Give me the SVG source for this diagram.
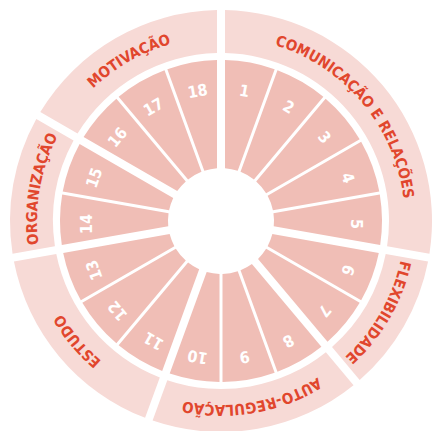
<svg xmlns="http://www.w3.org/2000/svg" width="433" height="431" viewBox="0 0 433 431">
<style>
.ring{fill:#f7dad6}
.seg{fill:#f0beb6}
.lbl{font-family:"DejaVu Sans Condensed","DejaVu Sans",sans-serif;font-stretch:condensed;font-weight:bold;font-size:15px;fill:#e1462d;text-anchor:middle}
.num{font-family:"DejaVu Sans Condensed","DejaVu Sans",sans-serif;font-stretch:condensed;font-weight:bold;font-size:16px;fill:#ffffff;text-anchor:middle;dominant-baseline:central}
</style>
<defs>
<path id="sA" d="M4,-160.95 A161,161 0 0 1 53.653,-151.797 L16.71,-50.297 A53,53 0 0 0 4,-52.849 Z"/>
<path id="sB" d="M1.5,-160.993 A161,161 0 0 1 53.653,-151.797 L16.71,-50.297 A53,53 0 0 0 1.5,-52.979 Z"/>
<path id="sC" d="M1.5,-160.993 A161,161 0 0 1 51.29,-152.612 L14.317,-51.03 A53,53 0 0 0 1.5,-52.979 Z"/>
<path id="r100" d="M4,-210.962 A211,211 0 0 1 208.452,32.694 L166.095,25.225 A168,168 0 0 0 4,-167.952 Z"/>
<path id="r40" d="M4,-210.962 A211,211 0 0 1 132.54,-164.178 L104.893,-131.23 A168,168 0 0 0 4,-167.952 Z"/>
<path id="r60" d="M4,-210.962 A211,211 0 0 1 180.699,-108.945 L143.451,-87.44 A168,168 0 0 0 4,-167.952 Z"/>
<path id="lp" d="M221,37 A184,184 0 1 1 221,405 A184,184 0 1 1 221,37"/>
</defs>
<rect width="433" height="431" fill="#ffffff"/>

<g id="cat-comunicacao">
<use href="#r100" class="ring" transform="translate(221,221) rotate(0)"/>
<text class="lbl"><textPath href="#lp" startOffset="160.57">COMUNICAÇÃO E RELAÇÕES</textPath></text>
</g>
<g id="cat-flexibilidade">
<use href="#r40" class="ring" transform="translate(221,221) rotate(100)"/>
<text class="lbl"><textPath href="#lp" startOffset="385.37">FLEXIBILIDADE</textPath></text>
</g>
<g id="cat-autoregulacao">
<use href="#r60" class="ring" transform="translate(221,221) rotate(140)"/>
<text class="lbl"><textPath href="#lp" startOffset="545.94">AUTO-REGULAÇÃO</textPath></text>
</g>
<g id="cat-estudo">
<use href="#r60" class="ring" transform="translate(221,221) rotate(200)"/>
<text class="lbl"><textPath href="#lp" startOffset="738.64">ESTUDO</textPath></text>
</g>
<g id="cat-organizacao">
<use href="#r40" class="ring" transform="translate(221,221) rotate(260)"/>
<text class="lbl"><textPath href="#lp" startOffset="899.2">ORGANIZAÇÃO</textPath></text>
</g>
<g id="cat-motivacao">
<use href="#r60" class="ring" transform="translate(221,221) rotate(300)"/>
<text class="lbl"><textPath href="#lp" startOffset="1059.8">MOTIVAÇÃO</textPath></text>
</g>

<g id="seg1"><use href="#sA" class="seg" transform="translate(221,221) rotate(0)"/><text class="num" transform="translate(244.44,91.05) rotate(10)">1</text></g>
<g id="seg2"><use href="#sB" class="seg" transform="translate(221,221) rotate(20)"/><text class="num" transform="translate(288.5,107.09) rotate(30)">2</text></g>
<g id="seg3"><use href="#sB" class="seg" transform="translate(221,221) rotate(40)"/><text class="num" transform="translate(324.42,137.22) rotate(50)">3</text></g>
<g id="seg4"><use href="#sB" class="seg" transform="translate(221,221) rotate(60)"/><text class="num" transform="translate(347.86,177.83) rotate(70)">4</text></g>
<g id="seg5"><use href="#sC" class="seg" transform="translate(221,221) rotate(80)"/><text class="num" transform="translate(356,224) rotate(90)">5</text></g>
<g id="seg6"><use href="#sA" class="seg" transform="translate(221,221) rotate(100)"/><text class="num" transform="translate(347.86,270.17) rotate(110)">6</text></g>
<g id="seg7"><use href="#sC" class="seg" transform="translate(221,221) rotate(120)"/><text class="num" transform="translate(324.42,310.78) rotate(130)">7</text></g>
<g id="seg8"><use href="#sA" class="seg" transform="translate(221,221) rotate(140)"/><text class="num" transform="translate(288.5,340.91) rotate(150)">8</text></g>
<g id="seg9"><use href="#sB" class="seg" transform="translate(221,221) rotate(160)"/><text class="num" transform="translate(244.44,356.95) rotate(170)">9</text></g>
<g id="seg10"><use href="#sC" class="seg" transform="translate(221,221) rotate(180)"/><text class="num" transform="translate(197.56,356.95) rotate(190)">10</text></g>
<g id="seg11"><use href="#sA" class="seg" transform="translate(221,221) rotate(200)"/><text class="num" transform="translate(153.5,340.91) rotate(210)">11</text></g>
<g id="seg12"><use href="#sB" class="seg" transform="translate(221,221) rotate(220)"/><text class="num" transform="translate(117.58,310.78) rotate(230)">12</text></g>
<g id="seg13"><use href="#sC" class="seg" transform="translate(221,221) rotate(240)"/><text class="num" transform="translate(94.14,270.17) rotate(250)">13</text></g>
<g id="seg14"><use href="#sA" class="seg" transform="translate(221,221) rotate(260)"/><text class="num" transform="translate(86,224) rotate(270)">14</text></g>
<g id="seg15"><use href="#sC" class="seg" transform="translate(221,221) rotate(280)"/><text class="num" transform="translate(94.14,177.83) rotate(290)">15</text></g>
<g id="seg16"><use href="#sA" class="seg" transform="translate(221,221) rotate(300)"/><text class="num" transform="translate(117.58,137.22) rotate(310)">16</text></g>
<g id="seg17"><use href="#sB" class="seg" transform="translate(221,221) rotate(320)"/><text class="num" transform="translate(153.5,107.09) rotate(330)">17</text></g>
<g id="seg18"><use href="#sC" class="seg" transform="translate(221,221) rotate(340)"/><text class="num" transform="translate(197.56,91.05) rotate(350)">18</text></g>
</svg>
